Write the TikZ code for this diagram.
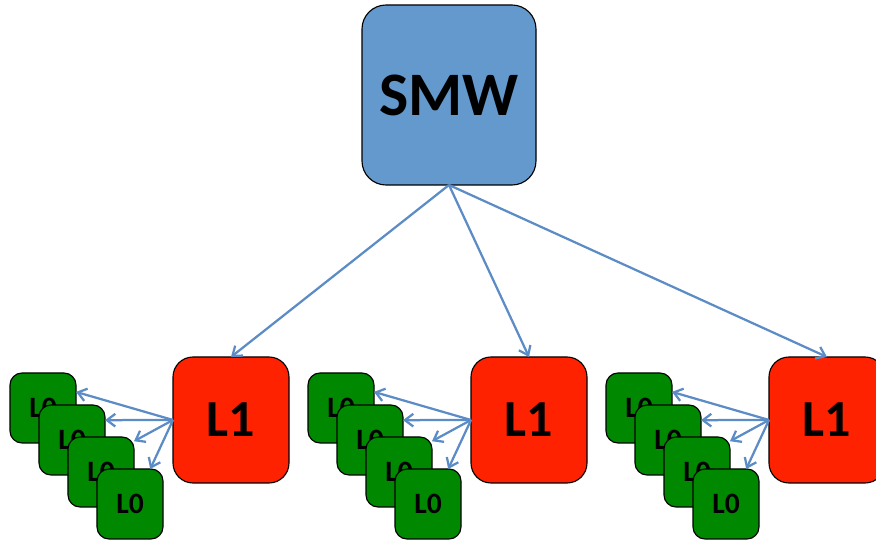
\documentclass[tikz,border=0pt]{standalone}
\usepackage{fontspec}
\setmainfont{Carlito}
\usetikzlibrary{
	positioning,
	arrows.meta
}
\definecolor{smwblue}{RGB}{99,153,204}
\definecolor{lonered}{RGB}{255,34,0}
\definecolor{lzerogreen}{RGB}{0,136,0}
\definecolor{linkblue}{RGB}{92,140,198}

\begin{document}
\begin{tikzpicture}[
	box/.style = {
		rectangle, draw=black, thick, inner sep=0pt, outer sep=0pt,
		font=\bfseries
	},
	smw/.style = {box, fill=smwblue, rounded corners=0.6cm,
		minimum width=4.35cm, minimum height=4.5cm,
		font=\bfseries\fontsize{44}{47}\selectfont},
	lone/.style = {box, fill=lonered, rounded corners=0.5cm,
		minimum width=2.9cm, minimum height=3.15cm,
		font=\bfseries\fontsize{37}{40}\selectfont},
	lzero/.style = {box, fill=lzerogreen, rounded corners=0.3cm,
		minimum width=1.65cm, minimum height=1.75cm,
		font=\bfseries\fontsize{21}{24}\selectfont},
	stack/.style = {lzero, below right=-0.95cm and -0.925cm of #1},
	link/.style = {draw=linkblue, line width=1.6pt,
		-{Straight Barb[length=6pt,width=9pt]}}
]
	\useasboundingbox (0,0) rectangle (21.9,-13.55);

	\node (smw) [smw] at (11.225,-2.375) {SMW};

	% left group
	\node (l1a) [lone] at (5.775,-10.5) {L1};
	\node (a1) [lzero] at (1.075,-10.2) {L0};
		\node (a2) [stack=a1] {L0};
		\node (a3) [stack=a2] {L0};
		\node (a4) [stack=a3] {L0};

	% middle group
	\node (l1b) [lone] at (13.225,-10.5) {L1};
	\node (b1) [lzero] at (8.525,-10.2) {L0};
		\node (b2) [stack=b1] {L0};
		\node (b3) [stack=b2] {L0};
		\node (b4) [stack=b3] {L0};

	% right group
	\node (l1c) [lone] at (20.675,-10.5) {L1};
	\node (c1) [lzero] at (15.975,-10.2) {L0};
		\node (c2) [stack=c1] {L0};
		\node (c3) [stack=c2] {L0};
		\node (c4) [stack=c3] {L0};

	\draw [link] (smw.south) -- (l1a.north);
	\draw [link] (smw.south) -- (l1b.north);
	\draw [link] (smw.south) -- (l1c.north);

	\draw [link] (l1a.west) -- (a1.26);
	\draw [link] (l1a.west) -- (a2.31);
	\draw [link] (l1a.west) -- (a3.43);
	\draw [link] (l1a.west) -- (a4.60);

	\draw [link] (l1b.west) -- (b1.26);
	\draw [link] (l1b.west) -- (b2.31);
	\draw [link] (l1b.west) -- (b3.43);
	\draw [link] (l1b.west) -- (b4.60);

	\draw [link] (l1c.west) -- (c1.26);
	\draw [link] (l1c.west) -- (c2.31);
	\draw [link] (l1c.west) -- (c3.43);
	\draw [link] (l1c.west) -- (c4.60);
\end{tikzpicture}
\end{document}
